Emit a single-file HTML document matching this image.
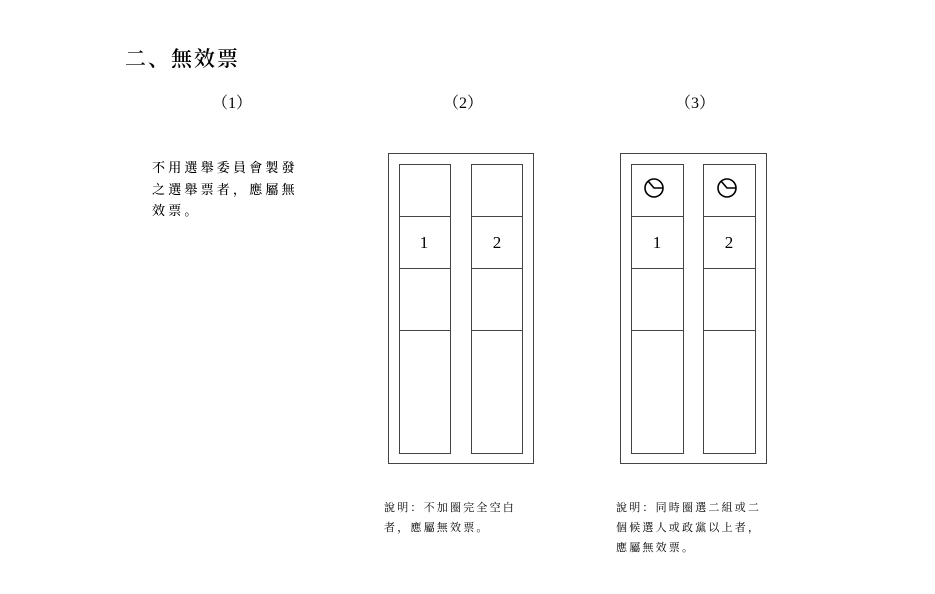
<!DOCTYPE html>
<html><head><meta charset="utf-8"><style>
body{margin:0;background:#fff;}
svg text{font-family:"Liberation Serif","Noto Serif CJK SC","Noto Sans CJK TC",serif;fill:#000;}
</style></head><body>
<svg width="935" height="589" viewBox="0 0 935 589" xmlns="http://www.w3.org/2000/svg">
<text x="125" y="66" font-size="21" letter-spacing="2" font-weight="600">二、無效票</text>
<text x="212" y="108" font-size="16">（1）</text>
<text x="443" y="108" font-size="16">（2）</text>
<text x="675" y="108" font-size="16">（3）</text>
<g font-size="13" letter-spacing="3.2" font-weight="500">
<text x="152" y="172">不用選舉委員會製發</text>
<text x="152" y="194">之選舉票者，應屬無</text>
<text x="152" y="215">效票。</text>
</g>
<g font-size="11" letter-spacing="2.2">
<text x="384" y="511">說明：不加圈完全空白</text>
<text x="384" y="531">者，應屬無效票。</text>
<text x="616" y="511">說明：同時圈選二組或二</text>
<text x="616" y="531">個候選人或政黨以上者，</text>
<text x="616" y="551">應屬無效票。</text>
</g>
<g fill="none" stroke="#444" stroke-width="1">
<rect x="388.5" y="153.5" width="145" height="310"/>
<rect x="399.5" y="164.5" width="51" height="289"/>
<rect x="471.5" y="164.5" width="51" height="289"/>
<path d="M399 216.5H451M399 268.5H451M399 330.5H451M471 216.5H523M471 268.5H523M471 330.5H523"/>
<rect x="620.5" y="153.5" width="146" height="310"/>
<rect x="631.5" y="164.5" width="52" height="289"/>
<rect x="703.5" y="164.5" width="52" height="289"/>
<path d="M631 216.5H684M631 268.5H684M631 330.5H684M703 216.5H756M703 268.5H756M703 330.5H756"/>
</g>
<g fill="none" stroke="#000" stroke-width="1.6">
<circle cx="654" cy="188" r="9"/><path d="M648 181L654 188H663"/>
<circle cx="727" cy="188" r="9"/><path d="M721 181L727 188H736"/>
</g>
<text x="424" y="248" font-size="17" text-anchor="middle">1</text>
<text x="497" y="248" font-size="17" text-anchor="middle">2</text>
<text x="657" y="248" font-size="17" text-anchor="middle">1</text>
<text x="729" y="248" font-size="17" text-anchor="middle">2</text>
</svg>
</body></html>
